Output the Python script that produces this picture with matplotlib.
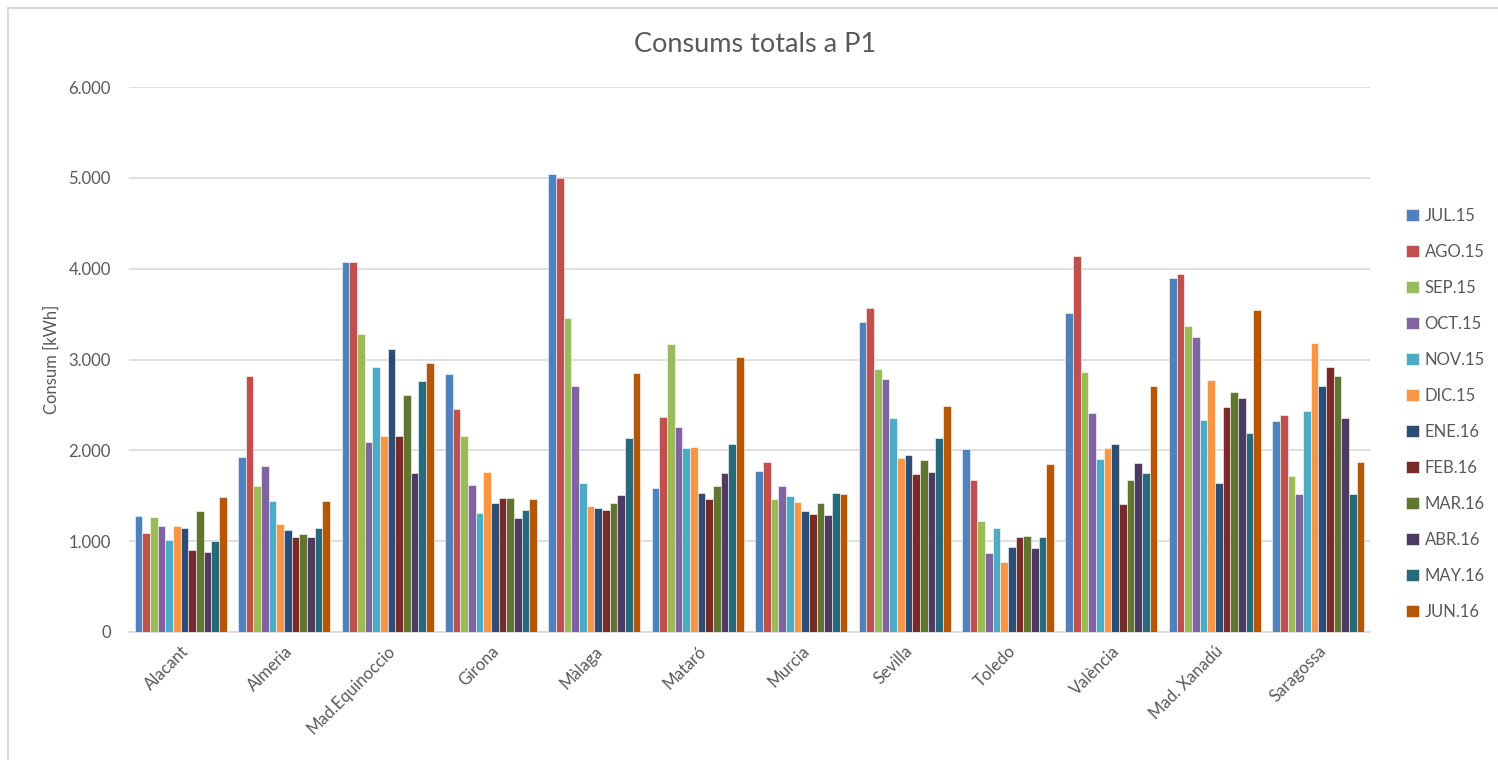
import matplotlib
matplotlib.use("Agg")
import matplotlib.pyplot as plt
import numpy as np
from matplotlib.ticker import FuncFormatter
from matplotlib.patches import Rectangle

plt.rcParams['font.family'] = ['Lato', 'DejaVu Sans']

# Monthly P1 consumption per site (kWh)
sites = ["Alacant", "Almeria", "Mad.Equinoccio", "Girona", "Màlaga", "Mataró",
         "Murcia", "Sevilla", "Toledo", "València", "Mad. Xanadú", "Saragossa"]
months = ["JUL.15", "AGO.15", "SEP.15", "OCT.15", "NOV.15", "DIC.15",
          "ENE.16", "FEB.16", "MAR.16", "ABR.16", "MAY.16", "JUN.16"]

jul15 = [1276, 1932, 4071, 2835, 5045, 1590, 1771, 3416, 2010, 3510, 3895, 2324]
ago15 = [1095, 2819, 4071, 2450, 4998, 2371, 1873, 3565, 1673, 4138, 3938, 2391]
sep15 = [1264, 1602, 3286, 2155, 3455, 3172, 1468, 2890, 1217, 2866, 3373, 1716]
oct15 = [1162, 1830, 2097, 1614, 2709, 2258, 1602, 2788, 872, 2415, 3251, 1523]
nov15 = [1017, 1445, 2921, 1311, 1637, 2022, 1500, 2360, 1143, 1908, 2336, 2438]
dic15 = [1162, 1186, 2155, 1763, 1390, 2042, 1433, 1920, 766, 2030, 2776, 3180]
ene16 = [1150, 1119, 3117, 1421, 1366, 1535, 1331, 1951, 938, 2065, 1637, 2709]
feb16 = [903, 1048, 2155, 1480, 1343, 1468, 1300, 1739, 1048, 1413, 2481, 2921]
mar16 = [1331, 1076, 2607, 1480, 1421, 1602, 1421, 1896, 1060, 1673, 2642, 2819]
abr16 = [879, 1048, 1751, 1256, 1512, 1751, 1288, 1763, 927, 1861, 2576, 2360]
may16 = [1005, 1150, 2764, 1343, 2136, 2065, 1535, 2136, 1048, 1751, 2191, 1523]
jun16 = [1488, 1445, 2956, 1468, 2846, 3023, 1523, 2493, 1853, 2709, 3541, 1873]

series = [jul15, ago15, sep15, oct15, nov15, dic15,
          ene16, feb16, mar16, abr16, may16, jun16]

colors = ["#4F81BD", "#C0504D", "#9BBB59", "#8064A2", "#4BACC6", "#F79646",
          "#2C4D75", "#772C2A", "#5F7530", "#4D3B62", "#276A7C", "#B65708"]

text_color = "#595959"
grid_color = "#D9D9D9"

W, H = 1498, 760
fig = plt.figure(figsize=(W / 100, H / 100), dpi=100)
fig.patch.set_facecolor("white")

# outer chart frame
fig.add_artist(Rectangle((8 / W, -0.05), 1.2, 1 - 8 / H + 0.05,
                         transform=fig.transFigure, fill=False,
                         edgecolor="#D9D9D9", linewidth=1.5))

ax = fig.add_axes([129 / W, 1 - 632 / H, (1370 - 129) / W, (632 - 87) / H])

n = len(series)
group_w = 0.89
bar_w = group_w / n
x = np.arange(len(sites))
for i, (vals, col, lab) in enumerate(zip(series, colors, months)):
    offs = -group_w / 2 + bar_w * (i + 0.5)
    ax.bar(x + offs, vals, width=bar_w, color=col, label=lab,
           edgecolor="white", linewidth=0.4, zorder=3)

ax.set_xlim(-0.5, len(sites) - 0.5)
ax.set_ylim(0, 6000)
ax.set_yticks(np.arange(0, 6001, 1000))
ax.yaxis.set_major_formatter(FuncFormatter(lambda v, p: f"{int(v):,}".replace(",", ".")))
ax.grid(axis="y", color=grid_color, linewidth=1.2, zorder=0)
for s in ["top", "right", "left"]:
    ax.spines[s].set_visible(False)
ax.spines["bottom"].set_color(grid_color)
ax.spines["bottom"].set_linewidth(1.2)
ax.tick_params(axis="y", length=0, pad=13, labelsize=12, labelcolor=text_color)
ax.tick_params(axis="x", length=0, pad=8, labelsize=12, labelcolor=text_color)

ax.set_xticks(x)
ax.set_xticklabels(sites, rotation=45, ha="right", va="top", rotation_mode="anchor")

ax.set_ylabel("Consum [kWh]", fontsize=12, color=text_color, labelpad=6)

fig.text(755 / W, 1 - 44 / H, "Consums totals a P1", ha="center", va="center",
         fontsize=19.5, color=text_color)

leg = fig.legend(loc="center left", bbox_to_anchor=(1398 / W, 1 - 414 / H),
                 frameon=False, fontsize=12, handlelength=0.75, handleheight=0.75,
                 handletextpad=0.35, labelspacing=1.2, borderpad=0)
for t in leg.get_texts():
    t.set_color(text_color)

fig.savefig("out.png", dpi=100, facecolor="white")
